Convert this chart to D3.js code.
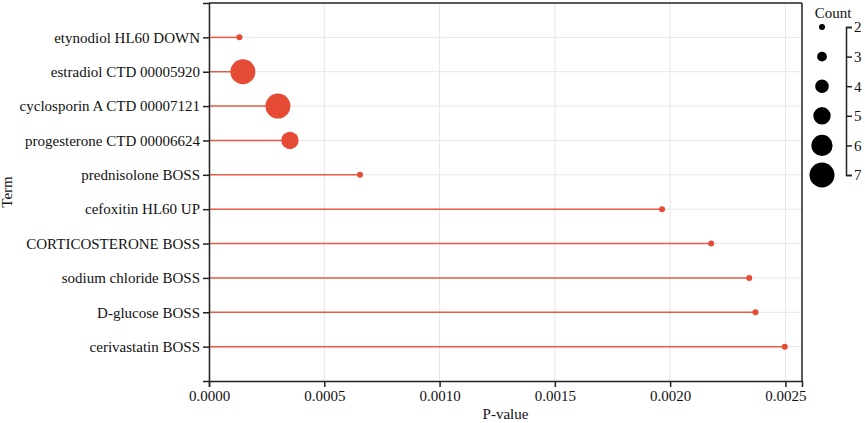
<!DOCTYPE html>
<html>
<head>
<meta charset="utf-8">
<script src="https://cdn.jsdelivr.net/npm/d3@7"></script>
<style>
  html, body { margin: 0; padding: 0; background: #fff; }
  svg { display: block; }
  svg text { font-family: "Liberation Serif", "DejaVu Serif", serif !important; font-size: 15px; fill: #111; }
</style>
</head>
<body>
<svg id="chart" width="865" height="423"></svg>
<script>
const terms = [
  "etynodiol HL60 DOWN",
  "estradiol CTD 00005920",
  "cyclosporin A CTD 00007121",
  "progesterone CTD 00006624",
  "prednisolone BOSS",
  "cefoxitin HL60 UP",
  "CORTICOSTERONE BOSS",
  "sodium chloride BOSS",
  "D-glucose BOSS",
  "cerivastatin BOSS"
];
const pvalues = [0.000132, 0.000147, 0.000299, 0.000351, 0.000655, 0.001965, 0.002178, 0.002343, 0.002370, 0.002497];
const counts = [2, 7, 7, 5, 2, 2, 2, 2, 2, 2];
const xTicks = [0, 0.0005, 0.0010, 0.0015, 0.0020, 0.0025];
const legendCounts = [2, 3, 4, 5, 6, 7];

const W = 865, H = 423;
const margin = {top: 3, right: 63, bottom: 42, left: 209};
const iw = W - margin.left - margin.right;
const ih = H - margin.top - margin.bottom;
const red = "#E64B35";
const FONT = '"Liberation Serif", "DejaVu Serif", serif';

const svg = d3.select("#chart");
const g = svg.append("g").attr("transform", `translate(${margin.left},${margin.top})`);

const x = d3.scaleLinear().domain([0, d3.max(pvalues) * 1.03]).range([0, iw]);
const y = d3.scalePoint().domain(terms).range([0, ih]).padding(1);
const r = d3.scaleLinear().domain([2, 7]).range([3, 12.5]);

// grid
g.append("g").selectAll("line").data(xTicks).join("line")
  .attr("x1", d => x(d)).attr("x2", d => x(d))
  .attr("y1", 0).attr("y2", ih)
  .attr("stroke", "#e6e6e6").attr("stroke-width", 1);
g.append("g").selectAll("line").data(terms).join("line")
  .attr("x1", 0).attr("x2", iw)
  .attr("y1", d => y(d)).attr("y2", d => y(d))
  .attr("stroke", "#e6e6e6").attr("stroke-width", 1);

// stems
g.append("g").selectAll("line").data(terms).join("line")
  .attr("x1", 0).attr("x2", (d, i) => x(pvalues[i]))
  .attr("y1", d => y(d)).attr("y2", d => y(d))
  .attr("stroke", red).attr("stroke-opacity", 0.9).attr("stroke-width", 1.5);

// dots
g.append("g").selectAll("circle").data(terms).join("circle")
  .attr("cx", (d, i) => x(pvalues[i]))
  .attr("cy", d => y(d))
  .attr("r", (d, i) => r(counts[i]))
  .attr("fill", red);

// frame (top and right)
g.append("line").attr("x1", 0).attr("x2", iw).attr("y1", 0).attr("y2", 0)
  .attr("stroke", "#222").attr("stroke-width", 1.5);
g.append("line").attr("x1", iw).attr("x2", iw).attr("y1", 0).attr("y2", ih)
  .attr("stroke", "#222").attr("stroke-width", 1.5);

// axes
const xAxis = g.append("g").attr("transform", `translate(0,${ih})`)
  .call(d3.axisBottom(x).tickValues(xTicks).tickFormat(d3.format(".4f")).tickSizeOuter(6));
const yAxis = g.append("g")
  .call(d3.axisLeft(y).tickSizeOuter(6));
[xAxis, yAxis].forEach(a => {
  a.attr("font-family", FONT).attr("font-size", 15);
  a.selectAll("path, line").attr("stroke", "#222").attr("stroke-width", 1.5);
  a.selectAll("text").style("font-size", "15px").style("fill", "#111").style("font-family", FONT);
});

// axis titles
svg.append("text").attr("x", margin.left + iw / 2).attr("y", 419)
  .attr("text-anchor", "middle").text("P-value");
svg.append("text").attr("transform", `translate(12,${margin.top + ih / 2}) rotate(-90)`)
  .attr("text-anchor", "middle").text("Term");

// legend
const ly = d3.scalePoint().domain(legendCounts).range([27, 175]);
const leg = svg.append("g");
leg.append("text").attr("x", 833).attr("y", 18).attr("text-anchor", "middle").text("Count");
leg.selectAll("circle").data(legendCounts).join("circle")
  .attr("cx", 822).attr("cy", d => ly(d)).attr("r", d => r(d)).attr("fill", "#000");
const lAxis = leg.append("g").attr("transform", "translate(846,0)")
  .call(d3.axisRight(ly).tickSize(6).tickSizeOuter(6).tickPadding(2));
lAxis.attr("font-family", FONT).attr("font-size", 15);
lAxis.selectAll("path, line").attr("stroke", "#222").attr("stroke-width", 1.5);
lAxis.selectAll("text").style("font-size", "15px").style("fill", "#111").style("font-family", FONT);
</script>
</body>
</html>
